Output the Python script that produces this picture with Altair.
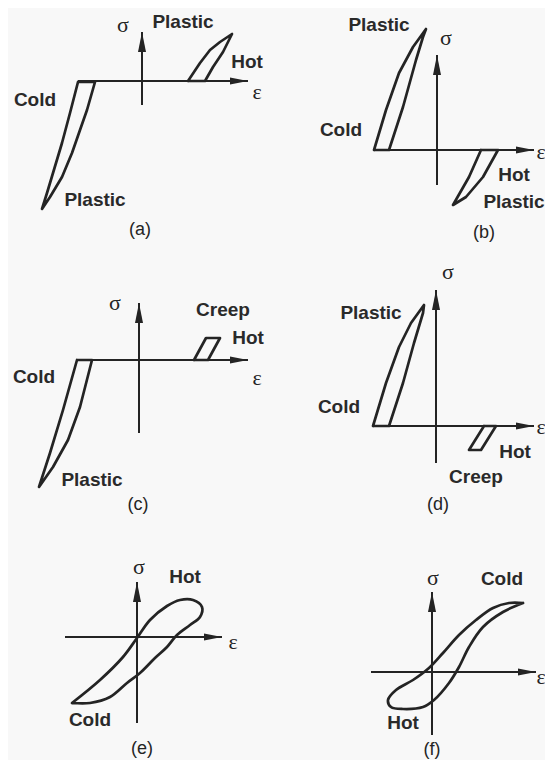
import altair as alt
import pandas as pd

# ---------------- data (picture coordinates) ----------------
# hysteresis / loop outlines, each a closed path
a_cold_x = [78, 70, 62, 53, 47, 42, 50, 62, 72, 80, 87, 95, 78]
a_cold_y = [82, 113, 143, 173, 193, 209, 197, 177, 153, 130, 110, 82, 82]
a_hot_x = [188, 200, 210, 220, 232, 223, 213, 205, 188]
a_hot_y = [81, 63, 50, 42, 34, 52, 67, 81, 81]

b_cold_x = [374, 386, 399, 413, 426, 423, 416, 403, 389, 374]
b_cold_y = [150, 110, 73, 47, 29, 37, 60, 107, 150, 150]
b_hot_x = [481, 469, 453, 466, 483, 498, 481]
b_hot_y = [150, 177, 205, 197, 177, 150, 150]

c_cold_x = [77, 63, 50, 39, 53, 68, 80, 92, 77]
c_cold_y = [360, 410, 453, 487, 467, 440, 407, 360, 360]
c_creep_x = [194, 206, 220, 208, 194]
c_creep_y = [360, 338, 338, 360, 360]

d_cold_x = [373, 386, 399, 411, 424, 423, 414, 403, 389, 373]
d_cold_y = [426, 383, 347, 323, 305, 313, 343, 383, 426, 426]
d_creep_x = [484, 496, 481, 469, 484]
d_creep_y = [426, 426, 450, 450, 426]

e_loop_x = [72, 100, 123, 137, 150, 167, 180, 193, 202, 200, 190, 177, 167, 155, 140, 127, 110, 90, 72]
e_loop_y = [703, 680, 657, 638, 620, 606, 600, 600, 607, 617, 625, 635, 647, 658, 673, 683, 697, 703, 703]

f_loop_x = [523, 509, 493, 476, 459, 443, 429, 413, 396, 388, 391, 403, 423, 434, 449, 459, 469, 483, 503, 523]
f_loop_y = [603, 603, 608, 620, 635, 653, 668, 680, 690, 700, 707, 709, 707, 700, 683, 667, 647, 627, 612, 603]

# sigma axes: x, bottom end, arrow tip
panels = ["a", "b", "c", "d", "e", "f"]
sig_x = [142, 437, 139, 436, 137, 432]
sig_bottom = [105, 185, 433, 463, 723, 735]
sig_tip = [32, 55, 303, 290, 582, 592]
# epsilon axes: y, left end, arrow tip
eps_y = [81, 150, 360, 426, 637, 672]
eps_left = [78, 374, 77, 373, 65, 371]
eps_tip = [248, 534, 248, 534, 222, 536]

# word labels
word_text = ["Plastic", "Hot", "Cold", "Plastic",
             "Plastic", "Cold", "Hot", "Plastic",
             "Creep", "Hot", "Cold", "Plastic",
             "Plastic", "Cold", "Hot", "Creep",
             "Hot", "Cold",
             "Cold", "Hot"]
word_x = [183, 247, 35, 95,
          379, 341, 514, 514,
          223, 248, 34, 92,
          371, 339, 515, 476,
          185, 90,
          502, 403]
word_y = [22, 62, 100, 200,
          25, 130, 175, 202,
          310, 338, 377, 480,
          313, 407, 452, 477,
          577, 720,
          579, 723]

# greek axis symbols
greek_text = ["σ", "ε", "σ", "ε", "σ", "ε", "σ", "ε", "σ", "ε", "σ", "ε"]
greek_x = [123, 257, 446, 541, 115, 257, 448, 541, 139, 233, 433, 541]
greek_y = [25, 92, 38, 152, 303, 378, 272, 427, 567, 642, 578, 677]

# panel captions
cap_text = ["(a)", "(b)", "(c)", "(d)", "(e)", "(f)"]
cap_x = [140, 484, 138, 438, 142, 432]
cap_y = [230, 233, 505, 505, 749, 750]

# ---------------- build tables ----------------
def curve_table(curves):
    rows = []
    for name, (xs_, ys_) in curves.items():
        for i, (xv, yv) in enumerate(zip(xs_, ys_)):
            rows.append({"curve": name, "order": i, "x": xv, "y": yv})
    return pd.DataFrame(rows)

sharp = curve_table({
    "a_cold": (a_cold_x, a_cold_y), "a_hot": (a_hot_x, a_hot_y),
    "b_cold": (b_cold_x, b_cold_y), "b_hot": (b_hot_x, b_hot_y),
    "c_cold": (c_cold_x, c_cold_y), "c_creep": (c_creep_x, c_creep_y),
    "d_cold": (d_cold_x, d_cold_y), "d_creep": (d_creep_x, d_creep_y),
})
smooth = curve_table({"e_loop": (e_loop_x, e_loop_y), "f_loop": (f_loop_x, f_loop_y)})

sig = pd.DataFrame({"panel": panels, "x": sig_x, "y": sig_bottom, "y2": sig_tip})
eps = pd.DataFrame({"panel": panels, "y": eps_y, "x": eps_left, "x2": eps_tip})
words = pd.DataFrame({"t": word_text, "x": word_x, "y": word_y})
greek = pd.DataFrame({"t": greek_text, "x": greek_x, "y": greek_y})
caps = pd.DataFrame({"t": cap_text, "x": cap_x, "y": cap_y})

INK = "#242424"
W, H = 537, 752
xs = alt.Scale(domain=[8, 8 + W], nice=False, zero=False)
ys = alt.Scale(domain=[8, 8 + H], nice=False, zero=False, reverse=True)
X = lambda f="x": alt.X(f, type="quantitative", scale=xs, axis=None)
Y = lambda f="y": alt.Y(f, type="quantitative", scale=ys, axis=None)

sharp_layer = alt.Chart(sharp).mark_line(
    color=INK, strokeWidth=2.7, strokeJoin="round", strokeCap="round"
).encode(x=X(), y=Y(), detail="curve:N", order="order:Q")
smooth_layer = alt.Chart(smooth).mark_line(
    color=INK, strokeWidth=2.7, strokeJoin="round", strokeCap="round",
    interpolate="catmull-rom"
).encode(x=X(), y=Y(), detail="curve:N", order="order:Q")

sig_rule = alt.Chart(sig).mark_rule(color=INK, strokeWidth=2).encode(
    x=X(), y=Y(), y2="y2:Q")
eps_rule = alt.Chart(eps).mark_rule(color=INK, strokeWidth=2).encode(
    x=X(), x2="x2:Q", y=Y())

up_head = alt.Chart(sig).mark_point(
    shape="M0,0L0.4,2L-0.4,2Z", filled=True, color=INK, opacity=1, size=400
).encode(x=X(), y=Y("y2"))
right_head = alt.Chart(eps).mark_point(
    shape="M0,0L-2,-0.4L-2,0.4Z", filled=True, color=INK, opacity=1, size=324
).encode(x=X("x2"), y=Y())

word_layer = alt.Chart(words).mark_text(
    font="Liberation Sans", fontSize=19, fontWeight="bold", color="#2a2a2a",
    align="center", baseline="middle"
).encode(x=X(), y=Y(), text="t:N")
greek_layer = alt.Chart(greek).mark_text(
    font="Liberation Serif", fontSize=22, color=INK, align="center", baseline="middle"
).encode(x=X(), y=Y(), text="t:N")
cap_layer = alt.Chart(caps).mark_text(
    font="Liberation Sans", fontSize=18, color=INK, align="center", baseline="middle"
).encode(x=X(), y=Y(), text="t:N")

chart = alt.layer(
    sharp_layer, smooth_layer, sig_rule, eps_rule, up_head, right_head,
    word_layer, greek_layer, cap_layer
).properties(
    width=W, height=H, padding=0,
    autosize=alt.AutoSizeParams(type="none"),
    background="#f8f8f8",
).configure_view(stroke=None)

chart.save("out.html", embed_options={"renderer": "svg", "actions": False})
